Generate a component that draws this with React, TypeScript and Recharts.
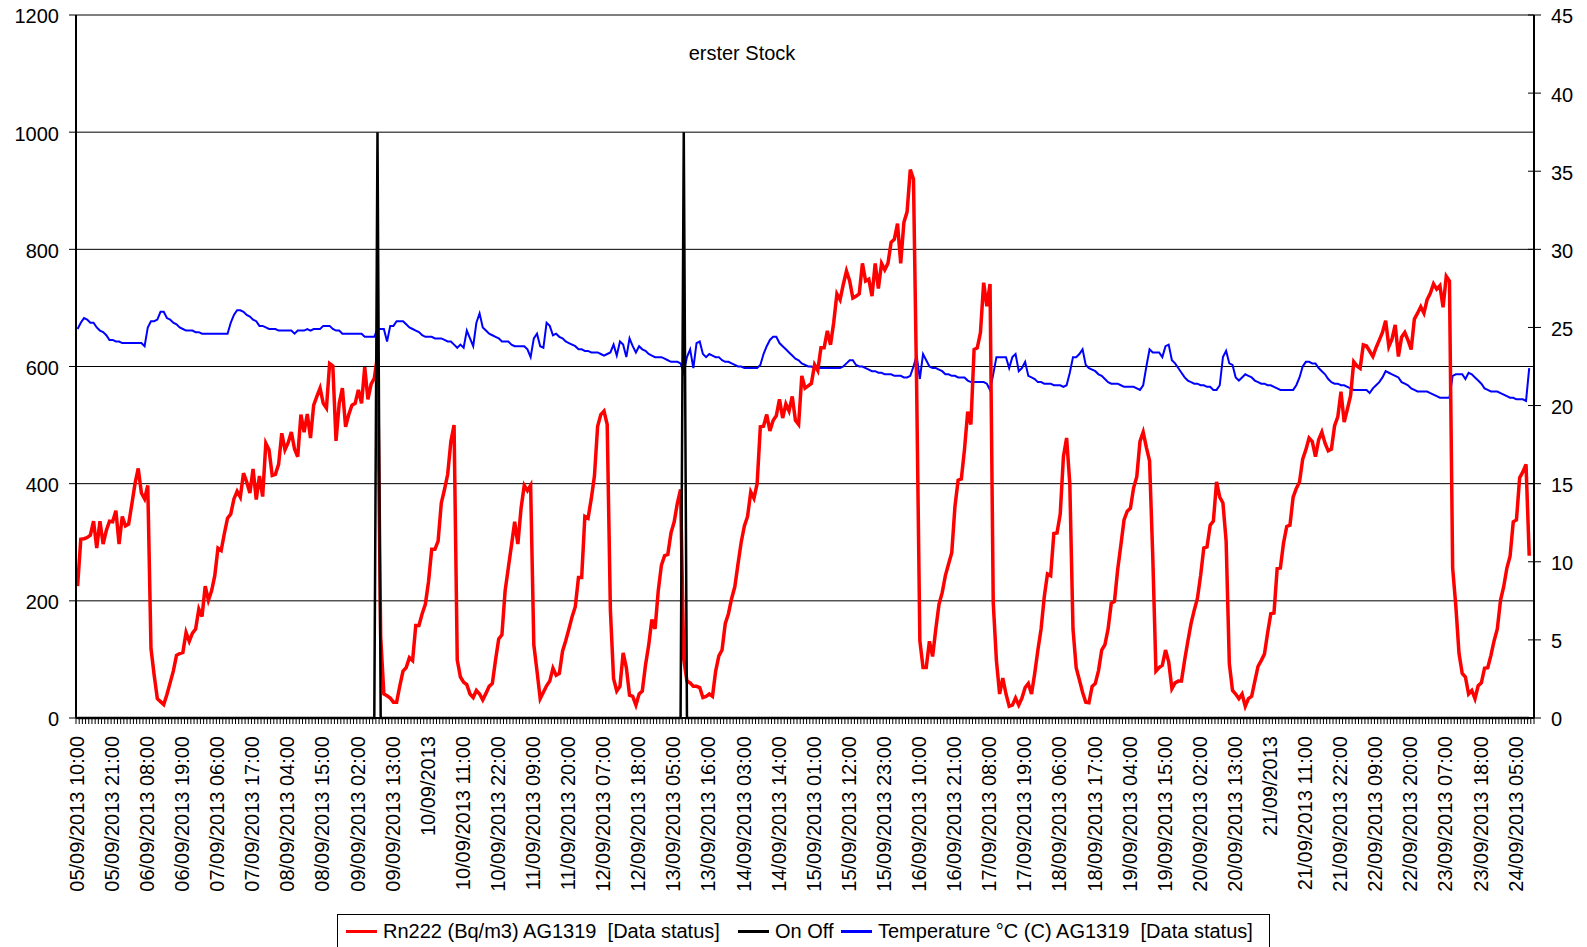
import { LineChart, Line, XAxis, YAxis, CartesianGrid } from "recharts";

const FONT = '"Liberation Sans", Arial, sans-serif';

// hourly values, first point 05/09/2013 10:00
const RN222 = [
  225, 305, 306, 308, 312, 336, 290, 336, 297, 320,
  336, 335, 354, 297, 344, 328, 331, 365, 400, 426,
  384, 374, 397, 119, 73, 33, 28, 23, 40, 60,
  80, 107, 110, 112, 146, 131, 145, 152, 186, 173,
  225, 201, 217, 243, 290, 286, 315, 341, 348, 374,
  387, 377, 418, 403, 384, 425, 373, 413, 378, 469,
  458, 414, 416, 433, 486, 458, 470, 488, 459, 446,
  518, 488, 519, 478, 534, 549, 563, 537, 529, 605,
  601, 473, 537, 563, 497, 518, 534, 537, 560, 537,
  599, 544, 570, 580, 618, 139, 41, 38, 34, 27,
  27, 55, 80, 86, 103, 98, 158, 158, 178, 194,
  233, 288, 288, 302, 367, 390, 416, 472, 500, 99,
  70, 61, 57, 41, 35, 47, 41, 31, 42, 54,
  59, 99, 135, 142, 217, 256, 295, 335, 297, 358,
  397, 388, 397, 125, 80, 33, 44, 55, 63, 85,
  73, 76, 114, 132, 152, 173, 190, 240, 240, 344,
  341, 374, 413, 498, 518, 524, 501, 184, 67, 46,
  54, 111, 86, 39, 37, 22, 41, 46, 90, 124,
  168, 152, 217, 261, 277, 279, 316, 335, 367, 390,
  100, 63, 60, 54, 54, 52, 35, 37, 41, 37,
  80, 106, 116, 161, 178, 204, 224, 263, 300, 328,
  344, 386, 375, 400, 497, 498, 518, 490, 508, 516,
  544, 512, 536, 524, 549, 508, 501, 584, 563, 567,
  571, 603, 593, 632, 632, 661, 637, 675, 724, 714,
  740, 763, 746, 717, 720, 724, 776, 746, 749, 720,
  776, 733, 776, 765, 776, 812, 817, 844, 776, 846,
  864, 936, 920, 563, 132, 86, 86, 131, 105, 152,
  194, 214, 243, 263, 282, 361, 406, 408, 459, 523,
  501, 629, 632, 658, 743, 703, 741, 197, 98, 41,
  68, 41, 20, 22, 34, 22, 34, 52, 59, 41,
  76, 116, 152, 207, 246, 243, 315, 316, 348, 446,
  478, 400, 152, 86, 65, 44, 27, 26, 54, 59,
  81, 116, 125, 152, 196, 199, 253, 295, 338, 353,
  358, 393, 412, 472, 488, 462, 439, 276, 80, 86,
  90, 116, 96, 50, 60, 63, 63, 99, 131, 161,
  184, 204, 243, 290, 292, 329, 336, 403, 377, 367,
  302, 93, 47, 41, 33, 41, 20, 33, 37, 63,
  88, 98, 109, 145, 178, 179, 255, 256, 299, 327,
  329, 377, 392, 403, 442, 458, 478, 472, 446, 475,
  488, 469, 456, 459, 499, 514, 557, 505, 527, 550,
  608, 601, 597, 637, 635, 626, 617, 632, 645, 658,
  678, 634, 647, 671, 617, 650, 658, 645, 629, 681,
  691, 702, 691, 714, 725, 741, 732, 738, 701, 754,
  746, 256, 191, 110, 76, 70, 41, 47, 33, 55,
  60, 85, 86, 107, 132, 152, 201, 224, 256, 276,
  335, 338, 410, 420, 433, 277,
];

const TEMPERATURE = [
  24.9, 25.3, 25.6, 25.5, 25.3, 25.3, 25.0, 24.8, 24.7, 24.5,
  24.2, 24.2, 24.1, 24.1, 24.0, 24.0, 24.0, 24.0, 24.0, 24.0,
  24.0, 23.8, 25.0, 25.4, 25.4, 25.5, 26.0, 26.0, 25.6, 25.5,
  25.3, 25.2, 25.0, 24.9, 24.8, 24.8, 24.8, 24.7, 24.7, 24.6,
  24.6, 24.6, 24.6, 24.6, 24.6, 24.6, 24.6, 24.6, 25.3, 25.8,
  26.1, 26.1, 26.0, 25.8, 25.7, 25.5, 25.4, 25.1, 25.1, 25.0,
  24.9, 24.9, 24.9, 24.8, 24.8, 24.8, 24.8, 24.8, 24.6, 24.8,
  24.8, 24.8, 24.9, 24.8, 24.9, 24.9, 24.9, 25.1, 25.1, 25.1,
  24.9, 24.8, 24.8, 24.6, 24.6, 24.6, 24.6, 24.6, 24.6, 24.6,
  24.4, 24.4, 24.4, 24.4, 24.9, 24.9, 24.9, 24.1, 25.1, 25.1,
  25.4, 25.4, 25.4, 25.2, 25.0, 24.9, 24.8, 24.7, 24.5, 24.4,
  24.4, 24.4, 24.3, 24.3, 24.3, 24.2, 24.1, 24.1, 23.9, 23.7,
  23.9, 23.7, 24.8, 24.3, 23.8, 25.3, 25.9, 25.0, 24.8, 24.6,
  24.5, 24.4, 24.3, 24.1, 24.1, 24.1, 23.9, 23.8, 23.8, 23.8,
  23.8, 23.6, 23.1, 24.3, 24.6, 23.8, 23.7, 25.3, 25.1, 24.5,
  24.6, 24.4, 24.3, 24.1, 24.0, 23.9, 23.8, 23.6, 23.6, 23.5,
  23.5, 23.4, 23.4, 23.4, 23.3, 23.2, 23.3, 23.4, 23.9, 23.2,
  24.1, 23.9, 23.1, 24.3, 23.8, 23.4, 23.8, 23.6, 23.5, 23.3,
  23.2, 23.1, 23.1, 23.1, 23.0, 22.9, 22.8, 22.8, 22.8, 22.7,
  22.1, 23.1, 23.6, 22.4, 24.0, 24.1, 23.3, 23.1, 23.3, 23.2,
  23.1, 23.1, 22.9, 22.8, 22.8, 22.7, 22.6, 22.5, 22.5, 22.4,
  22.4, 22.4, 22.4, 22.4, 22.6, 23.3, 23.8, 24.2, 24.4, 24.4,
  24.0, 23.8, 23.6, 23.4, 23.2, 23.0, 22.9, 22.7, 22.6, 22.5,
  22.5, 22.4, 22.4, 22.4, 22.4, 22.4, 22.4, 22.4, 22.4, 22.4,
  22.5, 22.7, 22.9, 22.9, 22.6, 22.5, 22.5, 22.4, 22.3, 22.2,
  22.2, 22.1, 22.1, 22.0, 22.0, 22.0, 21.9, 21.9, 21.9, 21.8,
  21.8, 21.9, 22.5, 23.2, 21.7, 23.3, 22.9, 22.5, 22.4, 22.4,
  22.3, 22.2, 22.0, 22.0, 21.9, 21.9, 21.8, 21.8, 21.8, 21.6,
  21.5, 21.5, 21.5, 21.5, 21.5, 21.4, 21.0, 22.0, 23.1, 23.1,
  23.1, 23.1, 22.4, 23.1, 23.3, 22.2, 22.4, 22.8, 21.9, 21.8,
  21.7, 21.5, 21.5, 21.4, 21.4, 21.4, 21.3, 21.3, 21.3, 21.2,
  21.3, 22.1, 23.1, 23.1, 23.3, 23.6, 22.6, 22.4, 22.3, 22.2,
  22.0, 21.9, 21.7, 21.5, 21.4, 21.4, 21.4, 21.3, 21.2, 21.2,
  21.2, 21.2, 21.1, 21.0, 21.3, 22.5, 23.6, 23.4, 23.4, 23.4,
  23.1, 23.8, 23.9, 22.9, 22.7, 22.4, 22.1, 21.8, 21.6, 21.5,
  21.4, 21.4, 21.3, 21.3, 21.2, 21.2, 21.0, 21.0, 21.3, 23.1,
  23.5, 22.7, 22.6, 21.8, 21.6, 21.8, 22.0, 21.9, 21.8, 21.6,
  21.5, 21.4, 21.4, 21.3, 21.3, 21.2, 21.1, 21.0, 21.0, 21.0,
  21.0, 21.0, 21.3, 21.8, 22.5, 22.8, 22.8, 22.7, 22.7, 22.4,
  22.2, 22.0, 21.7, 21.5, 21.4, 21.4, 21.3, 21.3, 21.2, 21.1,
  21.0, 21.0, 21.0, 21.0, 21.0, 20.8, 21.1, 21.3, 21.5, 21.8,
  22.2, 22.1, 22.0, 21.9, 21.8, 21.5, 21.4, 21.3, 21.1, 21.0,
  20.9, 20.9, 20.9, 20.9, 20.8, 20.7, 20.6, 20.5, 20.5, 20.5,
  20.5, 21.9, 22.0, 22.0, 22.0, 21.7, 22.1, 22.0, 21.8, 21.6,
  21.4, 21.1, 21.0, 20.9, 20.9, 20.9, 20.8, 20.7, 20.6, 20.5,
  20.5, 20.4, 20.4, 20.4, 20.3, 22.4,
];

// On/Off only switches at two moments, zero elsewhere
const ONOFF_HOURS = [0, 93, 94, 95, 189, 190, 191, 455];
const ONOFF_VALUES = [0, 0, 1000, 0, 0, 1000, 0, 0];

const X_LABELS = [
  "05/09/2013 10:00", "05/09/2013 21:00", "06/09/2013 08:00", "06/09/2013 19:00",
  "07/09/2013 06:00", "07/09/2013 17:00", "08/09/2013 04:00", "08/09/2013 15:00",
  "09/09/2013 02:00", "09/09/2013 13:00", "10/09/2013", "10/09/2013 11:00",
  "10/09/2013 22:00", "11/09/2013 09:00", "11/09/2013 20:00", "12/09/2013 07:00",
  "12/09/2013 18:00", "13/09/2013 05:00", "13/09/2013 16:00", "14/09/2013 03:00",
  "14/09/2013 14:00", "15/09/2013 01:00", "15/09/2013 12:00", "15/09/2013 23:00",
  "16/09/2013 10:00", "16/09/2013 21:00", "17/09/2013 08:00", "17/09/2013 19:00",
  "18/09/2013 06:00", "18/09/2013 17:00", "19/09/2013 04:00", "19/09/2013 15:00",
  "20/09/2013 02:00", "20/09/2013 13:00", "21/09/2013", "21/09/2013 11:00",
  "21/09/2013 22:00", "22/09/2013 09:00", "22/09/2013 20:00", "23/09/2013 07:00",
  "23/09/2013 18:00", "24/09/2013 05:00",
];
const LABEL_STEP = 11;
const SLOT_COUNT = 457;

const RN_TICKS = [0, 200, 400, 600, 800, 1000, 1200];
const TEMP_TICKS = [0, 5, 10, 15, 20, 25, 30, 35, 40, 45];

const LEGEND_NAMES = [
  "Rn222 (Bq/m3) AG1319  [Data status]",
  "On Off",
  "Temperature °C (C) AG1319  [Data status]",
];
const LEGEND_COLORS = ["#ff0000", "#000000", "#0000ff"];

const W = 1587;
const H = 947;
const PLOT_L = 76;
const PLOT_R = 1534;
const PLOT_T = 15;
const PLOT_B = 718;
const HALF_SLOT = (PLOT_R - PLOT_L) / SLOT_COUNT / 2;

const rows = RN222.map((rn, i) => ({
  x: i + 0.5,
  rn,
  temp: TEMPERATURE[i],
  onoff: null as number | null,
}));
ONOFF_HOURS.forEach((h, k) => {
  rows[h].onoff = ONOFF_VALUES[k];
});
const slotEdges = Array.from({ length: SLOT_COUNT + 1 }, (_, i) => i);

const BottomTick = (props: any) => {
  const { x, y, payload } = props;
  const v = payload.value;
  const label = v % LABEL_STEP === 0 ? X_LABELS[v / LABEL_STEP] : undefined;
  const lx = x + HALF_SLOT - 1;
  const ly = y + 18;
  return (
    <g>
      <line x1={x} y1={y} x2={x} y2={y + 6} stroke="#000" strokeWidth={1} />
      {label && (
        <text
          x={lx}
          y={ly}
          dy="0.36em"
          textAnchor="end"
          transform={`rotate(-90, ${lx}, ${ly})`}
          fontSize={20}
          fontFamily={FONT}
          fill="#000"
        >
          {label}
        </text>
      )}
    </g>
  );
};

const LeftTick = (props: any) => {
  const { x, y, payload } = props;
  return (
    <g>
      <line x1={x - 7} y1={y} x2={x} y2={y} stroke="#000" strokeWidth={1} />
      <text x={x - 17} y={y} dy="0.42em" textAnchor="end" fontSize={20} fontFamily={FONT} fill="#000">
        {payload.value}
      </text>
    </g>
  );
};

const RightTick = (props: any) => {
  const { x, y, payload } = props;
  return (
    <g>
      <line x1={x - 6} y1={y} x2={x + 7} y2={y} stroke="#000" strokeWidth={1} />
      <text x={x + 17} y={y} dy="0.42em" textAnchor="start" fontSize={20} fontFamily={FONT} fill="#000">
        {payload.value}
      </text>
    </g>
  );
};

const LEGEND_LEFT = [8, 400, 503];

export default function App() {
  return (
    <div
      style={{
        position: "absolute",
        left: 0,
        top: 0,
        width: W,
        height: H,
        overflow: "hidden",
        background: "#fff",
        fontFamily: FONT,
      }}
    >
      <LineChart
        width={W}
        height={H}
        data={rows}
        margin={{ top: PLOT_T, right: 0, bottom: 0, left: 0 }}
      >
        <CartesianGrid yAxisId="rn" horizontal vertical={false} stroke="#000" strokeWidth={1} />
        <XAxis
          type="number"
          dataKey="x"
          domain={[0, SLOT_COUNT]}
          ticks={slotEdges}
          interval={0}
          height={H - PLOT_B}
          tickSize={0}
          tickMargin={0}
          tickLine={false}
          tick={<BottomTick />}
          axisLine={{ stroke: "#000", strokeWidth: 2 }}
        />
        <YAxis
          yAxisId="rn"
          domain={[0, 1200]}
          ticks={RN_TICKS}
          interval={0}
          width={PLOT_L}
          tickSize={0}
          tickMargin={0}
          tickLine={false}
          tick={<LeftTick />}
          axisLine={{ stroke: "#000", strokeWidth: 2 }}
        />
        <YAxis
          yAxisId="t"
          orientation="right"
          domain={[0, 45]}
          ticks={TEMP_TICKS}
          interval={0}
          width={W - PLOT_R}
          tickSize={0}
          tickMargin={0}
          tickLine={false}
          tick={<RightTick />}
          axisLine={{ stroke: "#000", strokeWidth: 2 }}
        />
        <Line
          yAxisId="t"
          dataKey="temp"
          type="linear"
          stroke="#0000ff"
          strokeWidth={2}
          dot={false}
          activeDot={false}
          isAnimationActive={false}
        />
        <Line
          yAxisId="rn"
          dataKey="rn"
          type="linear"
          stroke="#ff0000"
          strokeWidth={3.5}
          dot={false}
          activeDot={false}
          isAnimationActive={false}
        />
        <Line
          yAxisId="rn"
          dataKey="onoff"
          type="linear"
          stroke="#000000"
          strokeWidth={2.5}
          connectNulls
          dot={false}
          activeDot={false}
          isAnimationActive={false}
        />
      </LineChart>

      <div
        style={{
          position: "absolute",
          left: 642,
          top: 41,
          width: 200,
          textAlign: "center",
          fontSize: 20,
          lineHeight: "24px",
          color: "#000",
        }}
      >
        erster Stock
      </div>

      <div
        style={{
          position: "absolute",
          left: 337,
          top: 914,
          width: 933,
          height: 40,
          border: "1px solid #000",
          boxSizing: "border-box",
          background: "#fff",
        }}
      >
        {LEGEND_NAMES.map((name, k) => (
          <div
            key={name}
            style={{
              position: "absolute",
              left: LEGEND_LEFT[k],
              top: 4,
              display: "flex",
              alignItems: "center",
              height: 24,
              whiteSpace: "pre",
              fontSize: 20,
              color: "#000",
            }}
          >
            <span
              style={{
                display: "inline-block",
                width: 31,
                height: 3,
                background: LEGEND_COLORS[k],
                marginRight: 6,
              }}
            />
            <span>{name}</span>
          </div>
        ))}
      </div>
    </div>
  );
}
